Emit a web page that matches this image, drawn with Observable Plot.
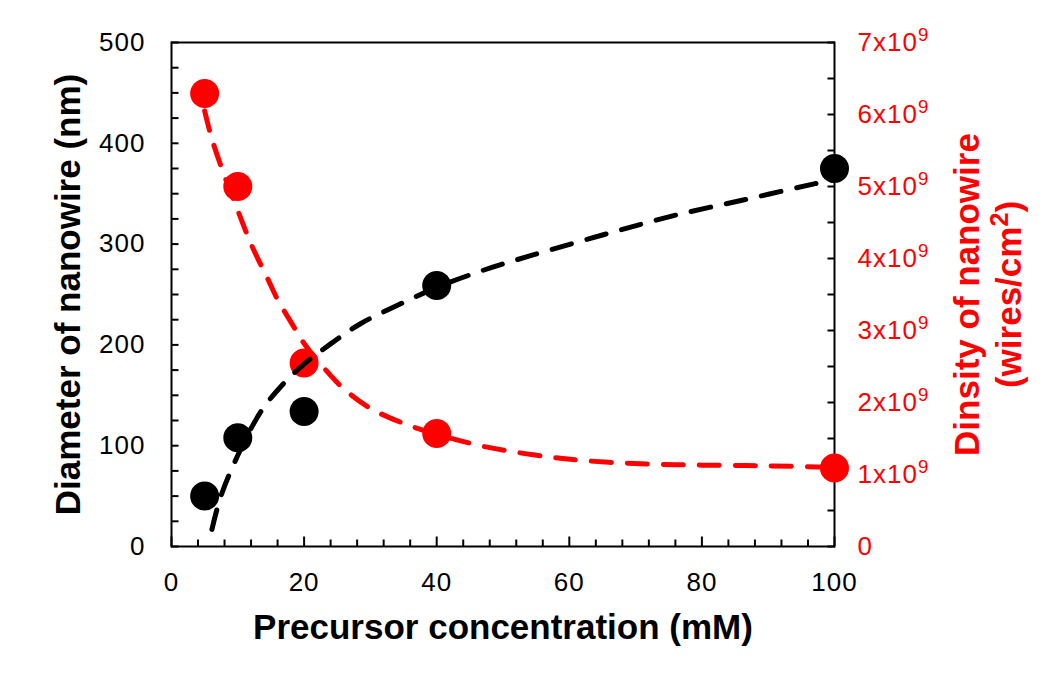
<!DOCTYPE html>
<html><head><meta charset="utf-8">
<script src="https://cdn.jsdelivr.net/npm/d3@7"></script>
<script src="https://cdn.jsdelivr.net/npm/@observablehq/plot@0.6"></script>
<style>
html,body{margin:0;padding:0;background:#fff;}
#chart svg{display:block;}
</style></head><body><div id="chart"></div>
<script>
// Measured data
const concentration = [5, 10, 20, 40, 100];            // mM
const diameter = [50, 108, 134, 259, 375];              // nm
const density = [6.29e9, 5.0e9, 2.55e9, 1.57e9, 1.09e9]; // wires/cm^2

// Dashed trend curves
const diameterFitX = [6.1, 7.4, 9.9, 13.4, 16.4, 20, 24, 28.5, 34, 40, 47, 54.4, 65, 75.6, 86.4, 97.1, 100];
const diameterFitY = [17, 49, 89, 133, 158, 181, 201, 221, 239, 257, 274, 289, 309, 328, 344, 360, 364];
const densityFitX = [5, 6.1, 8.1, 10.2, 12, 14.4, 16, 18, 20, 23, 26, 30, 35, 40, 47.6, 57.2, 62, 68, 74, 80, 90, 100];
const densityFitY = [6.05e9, 5.66e9, 5.12e9, 4.62e9, 4.2e9, 3.74e9, 3.43e9, 3.12e9, 2.82e9, 2.48e9, 2.19e9, 1.92e9, 1.71e9, 1.56e9, 1.38e9, 1.24e9, 1.195e9, 1.16e9, 1.14e9, 1.13e9, 1.12e9, 1.10e9];

// Tick labels
const xTickLabels = [0, 20, 40, 60, 80, 100];
const xMinorTicks = d3.range(0, 101, 4);
const yLeftTickLabels = [0, 100, 200, 300, 400, 500];
const yLeftMinorTicks = d3.range(0, 501, 25);
const yRightTickLabels = [0, 1e9, 2e9, 3e9, 4e9, 5e9, 6e9, 7e9];
const yRightMinorTicks = d3.range(0, 7.01e9, 0.5e9);

const DIAM_MAX = 500, DENS_MAX = 7e9;
const toY = v => v * DIAM_MAX / DENS_MAX;

const points = concentration.map((c, i) => ({c, diameter: diameter[i], density: density[i]}));
const diamFit = diameterFitX.map((x, i) => ({x, y: diameterFitY[i]}));
const densFit = densityFitX.map((x, i) => ({x, y: densityFitY[i]}));

const RED = "#ff0000";
const tickFont = 26;

const chart = Plot.plot({
  width: 1051, height: 679,
  marginLeft: 171, marginRight: 217, marginTop: 42, marginBottom: 133,
  x: {domain: [0, 100]},
  y: {domain: [0, 500]},
  style: {fontFamily: "'Liberation Sans', Arial, sans-serif", background: "#fff", color: "#000"},
  marks: [
    Plot.frame({stroke: "#000", strokeWidth: 2}),
    // ticks (inward)
    Plot.axisX(xMinorTicks.filter(d => d % 20 !== 0), {anchor: "bottom", tickSize: -6.5, strokeWidth: 2, fill: "none", label: null}),
    Plot.axisX(xTickLabels, {anchor: "bottom", tickSize: -9.5, strokeWidth: 2, fill: "none", label: null}),
    Plot.axisY(yLeftMinorTicks, {anchor: "left", tickSize: -7.5, strokeWidth: 2, fill: "none", label: null}),
    Plot.axisY(yRightMinorTicks.map(toY), {anchor: "right", tickSize: -7.5, strokeWidth: 2, fill: "none", label: null}),
    // tick labels
    Plot.axisX(xTickLabels, {anchor: "bottom", tickSize: 0, tickPadding: 26, fontSize: tickFont, label: null, tickFormat: d => String(d)}),
    Plot.axisY(yLeftTickLabels, {anchor: "left", tickSize: 0, tickPadding: 26, fontSize: tickFont, label: null, tickFormat: d => String(d)}),
    Plot.axisY(yRightTickLabels.map(toY), {anchor: "right", tickSize: 0, tickPadding: 23, fontSize: tickFont, fill: RED, label: null,
      tickFormat: v => { const d = Math.round(v * DENS_MAX / DIAM_MAX / 1e9); return d === 0 ? "0" : `${d}x10^9`; }}),
    // axis titles
    Plot.text(["Diameter of nanowire (nm)"], {frameAnchor: "left", dx: -92, rotate: -90, textAnchor: "middle", lineAnchor: "bottom", fontSize: 35, fontWeight: "bold", fill: "#000"}),
    Plot.text(["Precursor concentration (mM)"], {frameAnchor: "bottom", dy: 92, textAnchor: "middle", lineAnchor: "bottom", fontSize: 35, fontWeight: "bold", fill: "#000"}),
    Plot.text(["Dinsity of nanowire"], {frameAnchor: "right", dx: 144, rotate: -90, textAnchor: "middle", lineAnchor: "bottom", fontSize: 35, fontWeight: "bold", fill: RED}),
    Plot.text(["(wires/cm^2)"], {frameAnchor: "right", dx: 186, rotate: -90, textAnchor: "middle", lineAnchor: "bottom", fontSize: 35, fontWeight: "bold", fill: RED}),
    // data points
    Plot.dot(points, {x: "c", y: d => toY(d.density), r: 14.5, fill: RED, stroke: "none"}),
    Plot.dot(points, {x: "c", y: "diameter", r: 14.5, fill: "#000", stroke: "none"}),
    // trend curves
    Plot.line(densFit, {x: "x", y: d => toY(d.y), stroke: RED, strokeWidth: 5, strokeDasharray: "20,16", curve: "catmull-rom"}),
    Plot.line(diamFit, {x: "x", y: "y", stroke: "#000", strokeWidth: 5, strokeDasharray: "20,16", curve: "catmull-rom"})
  ]
});

document.getElementById("chart").appendChild(chart);

// letter spacing on tick labels
d3.select(chart).selectAll('[aria-label$="tick label"] text').style("letter-spacing", "1px");

// superscripts: "a^b" or "a^b)"
d3.select(chart).selectAll("text").each(function() {
  const t = this.textContent;
  const m = /^(.*)\^(\d+)(.*)$/.exec(t);
  if (!m || this.querySelector("tspan")) return;
  const sel = d3.select(this);
  const fs = parseFloat(getComputedStyle(this).fontSize) || tickFont;
  const supSize = fs * 0.72;
  const shift = fs * 0.36;
  sel.text(null);
  sel.append("tspan").text(m[1]);
  sel.append("tspan").attr("font-size", supSize).attr("dy", -shift).text(m[2]);
  if (m[3]) sel.append("tspan").attr("dy", shift).text(m[3]);
});
</script>
</body></html>
